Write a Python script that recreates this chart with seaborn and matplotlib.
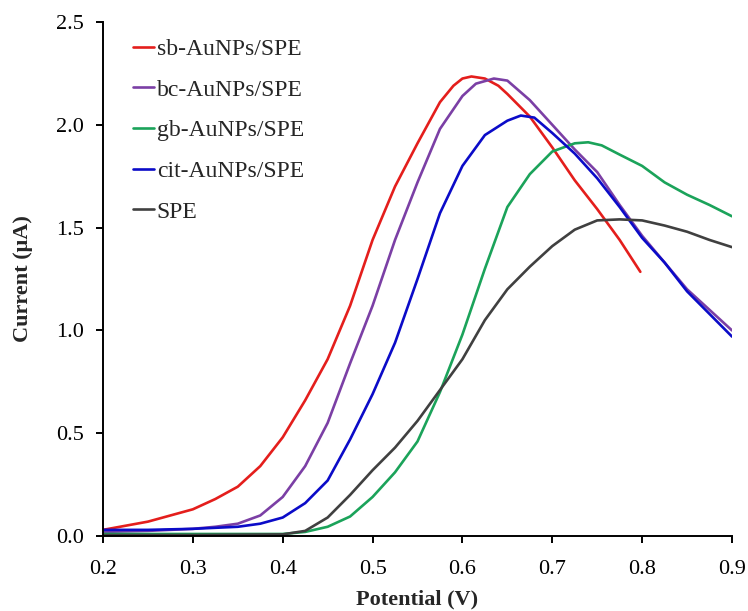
import matplotlib
matplotlib.use("Agg")
import matplotlib.pyplot as plt
import seaborn as sns
import pandas as pd

# ---- data ----
sb_x = [0.200, 0.225, 0.250, 0.275, 0.300, 0.325, 0.350, 0.375, 0.400, 0.425,
        0.450, 0.475, 0.500, 0.525, 0.550, 0.575, 0.590, 0.600, 0.610, 0.625,
        0.640, 0.650, 0.675, 0.700, 0.725, 0.750, 0.775, 0.798]
sb_y = [0.03, 0.05, 0.07, 0.10, 0.13, 0.18, 0.24, 0.34, 0.48, 0.66,
        0.86, 1.12, 1.44, 1.70, 1.91, 2.11, 2.19, 2.225, 2.235, 2.225,
        2.19, 2.15, 2.04, 1.89, 1.73, 1.59, 1.44, 1.285]

bc_x = [0.200, 0.250, 0.300, 0.325, 0.350, 0.375, 0.400, 0.425, 0.450, 0.475,
        0.500, 0.525, 0.550, 0.575, 0.600, 0.615, 0.635, 0.650, 0.675, 0.700,
        0.725, 0.750, 0.775, 0.800, 0.825, 0.850, 0.875, 0.900]
bc_y = [0.02, 0.025, 0.035, 0.045, 0.06, 0.10, 0.19, 0.34, 0.55, 0.84,
        1.12, 1.44, 1.72, 1.98, 2.14, 2.20, 2.225, 2.215, 2.12, 2.00,
        1.88, 1.77, 1.61, 1.46, 1.33, 1.20, 1.10, 1.00]

gb_x = [0.200, 0.300, 0.400, 0.425, 0.450, 0.475, 0.500, 0.525, 0.550, 0.575,
        0.600, 0.625, 0.650, 0.675, 0.700, 0.725, 0.740, 0.755, 0.775, 0.800,
        0.825, 0.850, 0.875, 0.900]
gb_y = [0.01, 0.01, 0.01, 0.02, 0.045, 0.095, 0.19, 0.31, 0.46, 0.70,
        0.98, 1.30, 1.60, 1.76, 1.87, 1.91, 1.915, 1.90, 1.855, 1.80,
        1.72, 1.66, 1.61, 1.555]

cit_x = [0.200, 0.250, 0.300, 0.350, 0.375, 0.400, 0.425, 0.450, 0.475, 0.500,
         0.525, 0.550, 0.575, 0.600, 0.625, 0.650, 0.665, 0.680, 0.700, 0.725,
         0.750, 0.775, 0.800, 0.825, 0.850, 0.875, 0.900]
cit_y = [0.03, 0.03, 0.035, 0.045, 0.06, 0.09, 0.16, 0.27, 0.47, 0.69,
         0.94, 1.25, 1.57, 1.80, 1.95, 2.02, 2.045, 2.035, 1.96, 1.86,
         1.74, 1.60, 1.45, 1.33, 1.19, 1.08, 0.97]

spe_x = [0.200, 0.300, 0.400, 0.425, 0.450, 0.475, 0.500, 0.525, 0.550, 0.575,
         0.600, 0.625, 0.650, 0.675, 0.700, 0.725, 0.750, 0.775, 0.800, 0.825,
         0.850, 0.875, 0.900]
spe_y = [0.005, 0.005, 0.008, 0.025, 0.09, 0.20, 0.32, 0.43, 0.56, 0.71,
         0.86, 1.05, 1.20, 1.31, 1.41, 1.49, 1.535, 1.54, 1.535, 1.51,
         1.48, 1.44, 1.405]

labels = ["sb-AuNPs/SPE", "bc-AuNPs/SPE", "gb-AuNPs/SPE", "cit-AuNPs/SPE", "SPE"]
colors = ["#E41E1C", "#7B3FA5", "#1BA35A", "#0B0BC8", "#404040"]
x_ticks = [0.2, 0.3, 0.4, 0.5, 0.6, 0.7, 0.8, 0.9]
y_ticks = [0.0, 0.5, 1.0, 1.5, 2.0, 2.5]

series = [(sb_x, sb_y), (bc_x, bc_y), (gb_x, gb_y), (cit_x, cit_y), (spe_x, spe_y)]
frames = []
for lab, (xs, ys) in zip(labels, series):
    frames.append(pd.DataFrame({"Potential": xs, "Current": ys, "Electrode": lab}))
df = pd.concat(frames, ignore_index=True)

# ---- style ----
sns.set_style("ticks")
plt.rcParams["font.family"] = ["Liberation Serif", "DejaVu Serif"]
plt.rcParams["axes.linewidth"] = 1.4
plt.rcParams["xtick.major.width"] = 1.4
plt.rcParams["ytick.major.width"] = 1.4
plt.rcParams["xtick.major.size"] = 5
plt.rcParams["ytick.major.size"] = 5
plt.rcParams["xtick.color"] = "black"
plt.rcParams["ytick.color"] = "black"
plt.rcParams["axes.edgecolor"] = "black"
plt.rcParams["lines.solid_joinstyle"] = "round"

fig = plt.figure(figsize=(7.48, 6.11), dpi=100)
ax = fig.add_axes([0.1377, 0.1227, 0.8409, 0.8413])

sns.lineplot(data=df, x="Potential", y="Current", hue="Electrode",
             hue_order=labels, palette=dict(zip(labels, colors)),
             sort=False, estimator=None, linewidth=1.9, ax=ax)

ax.set_xlim(0.2, 0.9)
ax.set_ylim(0.0, 2.5)
ax.set_xticks(x_ticks)
ax.set_yticks(y_ticks)
ax.set_xticklabels([f"{v:.1f}" for v in x_ticks], fontsize=16)
ax.set_yticklabels([f"{v:.1f}" for v in y_ticks], fontsize=16)
ax.tick_params(axis="x", direction="out", pad=12)
ax.tick_params(axis="y", direction="out", pad=9)
sns.despine(ax=ax)

ax.set_xlabel("Potential (V)", fontsize=16, fontweight="bold", labelpad=8)
ax.set_ylabel("Current (μA)", fontsize=16, fontweight="bold", labelpad=16)

leg = ax.legend(loc="upper left", bbox_to_anchor=(0.048, 0.968), frameon=False,
                fontsize=17, handlelength=0.9, handletextpad=0.1,
                labelspacing=0.81, borderpad=0, borderaxespad=0)

fig.savefig("out.png", dpi=100)
